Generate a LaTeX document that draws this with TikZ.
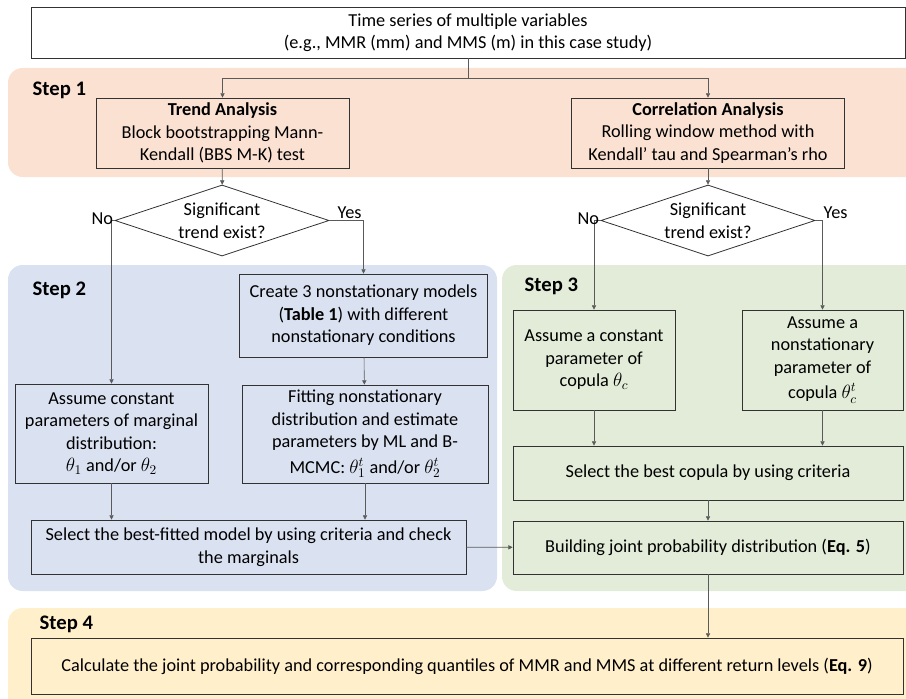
\documentclass[tikz,border=0pt]{standalone}
\usepackage{amsmath}
\usepackage{fontspec}
\setmainfont{Carlito}
\usepackage{tikz}
\usetikzlibrary{arrows.meta,positioning,shapes.geometric,calc}
\definecolor{bandred}{RGB}{251,225,210}
\definecolor{bandblue}{RGB}{218,225,241}
\definecolor{bandgreen}{RGB}{226,236,216}
\definecolor{bandyellow}{RGB}{255,240,203}
\definecolor{edgegray}{RGB}{50,50,50}
\definecolor{linegray}{RGB}{90,90,90}

\begin{document}
\begin{tikzpicture}[x=0.75pt,y=-0.75pt,
   font=\fontsize{13.7}{16.9}\selectfont,
   b/.style={draw=edgegray,line width=0.6pt,align=center,inner sep=1pt},
   dec/.style={draw=edgegray,line width=0.6pt,diamond,align=center,aspect=3,
               inner sep=0pt,minimum width=160.5pt,minimum height=53.25pt},
   band/.style={rounded corners=11pt},
   lbl/.style={anchor=west,font=\fontsize{15.5}{18}\selectfont\bfseries},
   yn/.style={inner sep=1pt},
   arr/.style={draw=linegray,line width=0.45pt,-{Triangle[length=3.2pt,width=3.2pt]}}]
  \useasboundingbox (0,0) rectangle (906,699);
  % coloured steps
  \fill[bandred,band] (8,68) rectangle (930,177);
  \fill[bandblue,band] (8,265) rectangle (497,591);
  \fill[bandgreen,band] (502,265) rectangle (930,591);
  \fill[bandyellow,band] (8,608) rectangle (930,720);
  \node[lbl] (s1) at (28,90) {Step 1};
  \node[lbl] (s2) at (28,290) {Step 2};
  \node[lbl] (s3) at (520,286) {Step 3};
  \node[lbl] (s4) at (35,624) {Step 4};

  \node[b,fill=white,minimum width=655.5pt,minimum height=38.25pt] (ts) at (468,32.5)
     {Time series of multiple variables\\(e.g., MMR (mm) and MMS (m) in this case study)};
  \node[b,minimum width=189.75pt,minimum height=52.5pt] (trend) at (222.5,133)
     {\textbf{Trend Analysis}\\Block bootstrapping Mann-\\Kendall (BBS M-K) test};
  \node[b,minimum width=204.75pt,minimum height=52.5pt] (corr) at (708,133)
     {\textbf{Correlation Analysis}\\Rolling window method with\\Kendall’ tau and Spearman’s rho};
  \node[dec] (dt) at (222,220.5) {Significant\\trend exist?};
  \node[dec] (dc) at (708,220.5) {Significant\\trend exist?};

  \node[b,minimum width=186pt,minimum height=62.25pt] (ns) at (363.5,315.5)
     {Create 3 nonstationary models\\(\textbf{Table 1}) with different\\nonstationary conditions};
  \node[b,minimum width=184.5pt,minimum height=73.5pt] (fitns) at (365,434)
     {Fitting nonstationary\\distribution and estimate\\parameters by ML and B-\\[2pt]MCMC: $\theta_1^t$ and/or $\theta_2^t$};
  \node[b,minimum width=144.75pt,minimum height=74.25pt] (marg) at (111.5,433.5)
     {Assume constant\\parameters of marginal\\distribution:\\$\theta_1$ and/or $\theta_2$};
  \node[b,minimum width=326.25pt,minimum height=40.5pt] (best) at (248.5,547)
     {Select the best-fitted model by using criteria and check\\the marginals};

  \node[b,minimum width=121.5pt,minimum height=75pt] (cc) at (594,360)
     {Assume a constant\\parameter of\\copula $\theta_c$};
  \node[b,minimum width=120.75pt,minimum height=75pt] (cn) at (822.5,360)
     {Assume a\\nonstationary\\parameter of\\[2pt]copula $\theta_c^t$};
  \node[b,minimum width=292.5pt,minimum height=40.5pt] (cop) at (708,473)
     {Select the best copula by using criteria};
  \node[b,minimum width=292.5pt,minimum height=39.75pt] (joint) at (708,547.5)
     {Building joint probability distribution (\textbf{Eq. 5})};
  \node[b,minimum width=654pt,minimum height=42pt] (calc) at (467,666)
     {Calculate the joint probability and corresponding quantiles of MMR and MMS at different return levels (\textbf{Eq. 9})};

  % connectors
  \coordinate (split) at (468,78);
  \draw[draw=linegray,line width=0.45pt] (ts) -- (split);
  \draw[arr] (split) -| (trend);
  \draw[arr] (split) -| (corr);
  \draw[arr] (trend) -- (dt);
  \draw[arr] (corr) -- (dc);
  \draw[arr] (dt.west) node[yn,anchor=south east,yshift=-4pt] {No} -| (marg);
  \draw[arr] (dt.east) node[yn,anchor=south west,xshift=5pt] {Yes} -| (ns);
  \draw[arr] (dc.west) node[yn,anchor=south east,yshift=-4pt] {No} -| (cc);
  \draw[arr] (dc.east) node[yn,anchor=south west,xshift=5pt] {Yes} -| (cn);
  \draw[arr] (ns) -- (fitns);
  \draw[arr] (marg) -- (marg |- best.north);
  \draw[arr] (fitns) -- (fitns |- best.north);
  \draw[arr] (best) -- (joint);
  \draw[arr] (cc) -- (cc |- cop.north);
  \draw[arr] (cn) -- (cn |- cop.north);
  \draw[arr] (cop) -- (joint);
  \draw[arr] (joint) -- (joint |- calc.north);
\end{tikzpicture}
\end{document}
